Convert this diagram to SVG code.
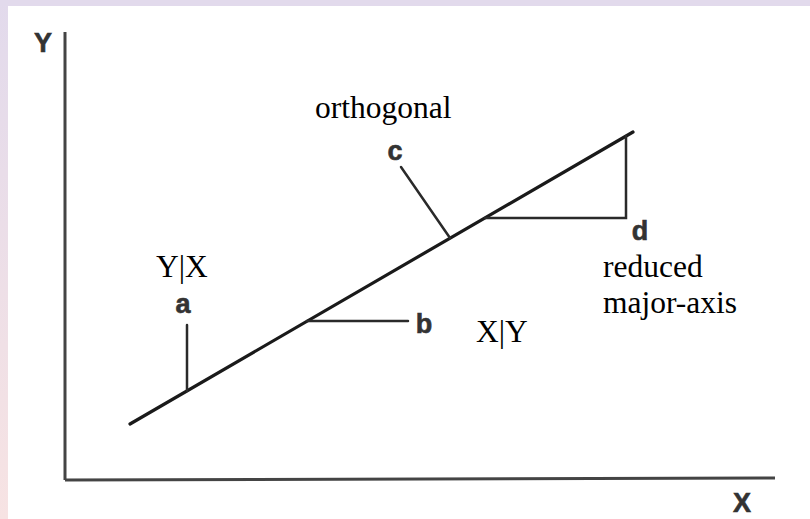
<svg xmlns="http://www.w3.org/2000/svg" width="810" height="519" viewBox="0 0 810 519">
  <defs>
    <linearGradient id="leftBand" x1="0" y1="0" x2="0" y2="1">
      <stop offset="0" stop-color="#e2daec"/>
      <stop offset="1" stop-color="#f7e3e3"/>
    </linearGradient>
    <style>
      .scan { font-family: "Liberation Sans", Arial, sans-serif; font-size: 27px; font-weight: bold; fill: #333; stroke: #333; stroke-width: 0.6; text-anchor: middle; }
      .label { font-family: "Liberation Serif", "Times New Roman", serif; font-size: 31.5px; fill: #000; }
      .ln { stroke: #2a2a2a; stroke-width: 2.5; fill: none; stroke-linecap: round; }
      .axis { stroke: #444; stroke-width: 3; fill: none; }
      .main { stroke: #1a1a1a; stroke-width: 3.2; fill: none; stroke-linecap: round; }
    </style>
  </defs>

  <rect x="0" y="0" width="810" height="519" fill="#ffffff"/>
  <rect x="0" y="0" width="8" height="519" fill="url(#leftBand)"/>
  <rect x="0" y="0" width="810" height="6" fill="#e2daec"/>

  <g id="connectors">
    <line class="axis" x1="65" y1="32" x2="65" y2="480"/>
    <line class="axis" x1="65" y1="480" x2="775" y2="478"/>
    <line class="main" x1="130" y1="424" x2="633" y2="132"/>
    <line class="ln" x1="187" y1="325" x2="187" y2="391"/>
    <line class="ln" x1="307" y1="321" x2="408" y2="321"/>
    <line class="ln" x1="401" y1="167" x2="450" y2="238"/>
    <polyline class="ln" points="485,218 626,218 626,136"/>
  </g>

  <g id="axis-y-label"><text class="scan" x="43" y="52">Y</text></g>
  <g id="axis-x-label"><text class="scan" x="742" y="512">X</text></g>
  <g id="node-a"><text class="scan" x="183" y="313">a</text></g>
  <g id="node-b"><text class="scan" x="424" y="333">b</text></g>
  <g id="node-c"><text class="scan" x="395" y="160">c</text></g>
  <g id="node-d"><text class="scan" x="640" y="240">d</text></g>

  <g id="label-orthogonal"><text class="label" x="315" y="118">orthogonal</text></g>
  <g id="label-yx"><text class="label" x="156" y="277">Y|X</text></g>
  <g id="label-xy"><text class="label" x="476" y="342">X|Y</text></g>
  <g id="label-rma">
    <text class="label" x="603" y="277">reduced</text>
    <text class="label" x="603" y="313">major-axis</text>
  </g>
</svg>
